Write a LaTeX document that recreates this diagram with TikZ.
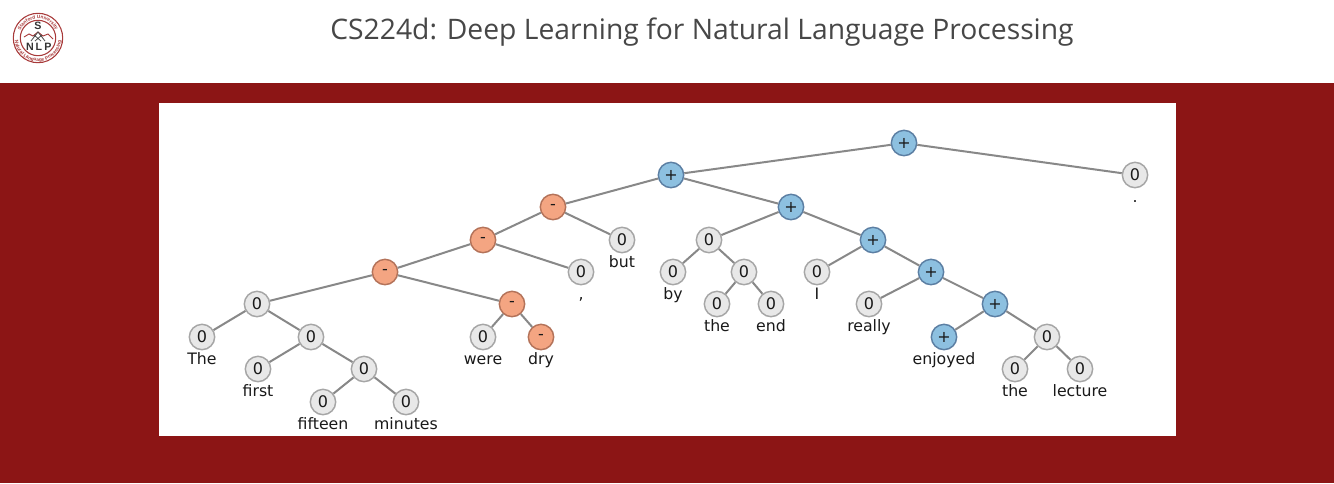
\documentclass[tikz,border=0pt]{standalone}
\usepackage{fontspec}
\setmainfont{DejaVu Sans}
\newfontfamily\titlefont{Open Sans}
\newfontfamily\logofont{Liberation Sans}
\usetikzlibrary{decorations.text}
\definecolor{crimson}{HTML}{8C1515}
\definecolor{logored}{HTML}{A83A3A}
\definecolor{edgegray}{HTML}{888888}
\definecolor{neutfill}{HTML}{E8E8E8}
\definecolor{neutline}{HTML}{A6A6A6}
\definecolor{posfill}{HTML}{8DC0E0}
\definecolor{posline}{HTML}{5C7FA3}
\definecolor{negfill}{HTML}{F4A582}
\definecolor{negline}{HTML}{B4735A}
\tikzset{
  x=0.75pt,y=-0.75pt,
  sent/.style={circle,draw,line width=1.1pt,minimum size=19pt,inner sep=0pt,font=\fontsize{12}{12}\selectfont,text=black!90},
  neutnode/.style={sent,fill=neutfill,draw=neutline},
  posnode/.style={sent,fill=posfill,draw=posline},
  negnode/.style={sent,fill=negfill,draw=negline},
  wordlabel/.style={inner sep=0pt,font=\fontsize{11.8}{12}\selectfont,text=black!90,anchor=base},
  treeedge/.style={draw=edgegray,line width=1.5pt},
  logoletter/.style={font=\logofont\bfseries\fontsize{8}{8}\selectfont,text=black!80,inner sep=0pt},
}
\newcommand{\nd}[5]{\node[#1] (#2) at (#3,#4) {#5};}
\newcommand{\lf}[6]{\node[#1] (#2) at (#3,#4) {#5};\node[wordlabel] (#2w) at (#3,#4+27) {#6};}
\begin{document}
\begin{tikzpicture}
\useasboundingbox (0,0) rectangle (1334,483);
\fill[white] (0,0) rectangle (1334,483);
\fill[crimson] (0,83) rectangle (1334,483);
\fill[white] (159,103) rectangle (1176,436);
% title
\node[font=\titlefont\fontsize{21.2}{21.2}\selectfont,text=black!72,inner sep=0pt] (title) at (702,32) {CS224d: Deep Learning for Natural Language Processing};
% logo
\draw[logored,line width=0.8pt] (38,38) circle (24.7);
\draw[logored,line width=0.8pt] (38,38) circle (17.7);
\path[postaction={decorate},decoration={text along path,text align=center,text={|\logofont\fontsize{3.6}{3.6}\selectfont\bfseries\color{logored}|Stanford University}}] (18.8,38) arc[start angle=180,end angle=360,radius=19.2];
\path[postaction={decorate},decoration={text along path,text align=center,text={|\logofont\fontsize{3.6}{3.6}\selectfont\bfseries\color{logored}|Natural Language Processing}}] (14.7,38) arc[start angle=180,end angle=0,radius=23.3];
\draw[logored,line width=0.7pt] (24,37) -- (29,34) -- (33,36) -- (38,32) -- (43,36) -- (48,34) -- (53,39);
\draw[black!70,line width=0.6pt] (31,41) -- (38,32) -- (45,41) (34,35) -- (41,41) (42,35) -- (35,41);
\node[logoletter] (ls) at (38,26) {S};
\node[logoletter] (ln) at (30,47) {N};
\node[logoletter] (ll) at (39,47) {L};
\node[logoletter] (lp) at (48,47) {P};
% tree
\nd{posnode}{a}{904}{143}{+}
\lf{neutnode}{dot}{1135}{175}{0}{.}
\nd{posnode}{b}{671}{175}{+}
\nd{negnode}{c}{553}{207}{-}
\nd{posnode}{d}{791}{207}{+}
\nd{negnode}{e}{483}{240}{-}
\lf{neutnode}{but}{622}{240}{0}{but}
\nd{neutnode}{f}{709}{240}{0}
\nd{posnode}{g}{873}{240}{+}
\nd{negnode}{h}{385}{272}{-}
\lf{neutnode}{comma}{581}{272}{0}{,}
\lf{neutnode}{by}{673}{272}{0}{by}
\nd{neutnode}{i}{744}{272}{0}
\lf{neutnode}{I}{817}{272}{0}{I}
\nd{posnode}{j}{931}{272}{+}
\nd{neutnode}{k}{257}{304}{0}
\nd{negnode}{l}{512}{304}{-}
\lf{neutnode}{the}{717}{304}{0}{the}
\lf{neutnode}{end}{771}{304}{0}{end}
\lf{neutnode}{really}{869}{304}{0}{really}
\nd{posnode}{m}{995}{304}{+}
\lf{neutnode}{The}{202}{337}{0}{The}
\nd{neutnode}{n}{311}{337}{0}
\lf{neutnode}{were}{483}{337}{0}{were}
\lf{negnode}{dry}{541}{337}{-}{dry}
\lf{posnode}{enjoyed}{944}{337}{+}{enjoyed}
\nd{neutnode}{o}{1047}{337}{0}
\lf{neutnode}{first}{258}{369}{0}{first}
\nd{neutnode}{p}{364}{369}{0}
\lf{neutnode}{theb}{1015}{369}{0}{the}
\lf{neutnode}{lecture}{1080}{369}{0}{lecture}
\lf{neutnode}{fifteen}{323}{402}{0}{fifteen}
\lf{neutnode}{minutes}{406}{402}{0}{minutes}
\foreach \u/\v in {a/b,a/dot,b/c,b/d,c/e,c/but,d/f,d/g,e/h,e/comma,f/by,f/i,g/I,g/j,h/k,h/l,i/the,i/end,j/really,j/m,k/The,k/n,l/were,l/dry,m/enjoyed,m/o,n/first,n/p,o/theb,o/lecture,p/fifteen,p/minutes}
  \draw[treeedge] (\u) -- (\v);
\end{tikzpicture}
\end{document}
